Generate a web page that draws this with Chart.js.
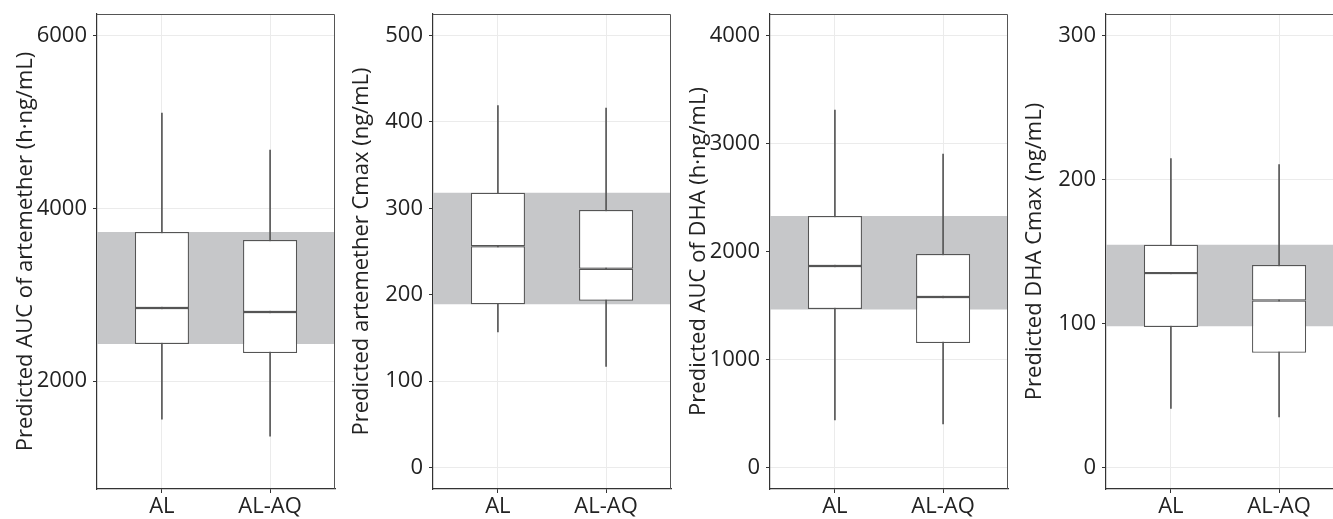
<!DOCTYPE html>
<html>
<head>
<meta charset="utf-8">
<script src="https://cdn.jsdelivr.net/npm/chart.js@4.4.1/dist/chart.umd.min.js"></script>
<style>
  html, body { margin: 0; padding: 0; background: #fff; }
  #wrap { position: relative; width: 1333px; height: 519px; overflow: hidden; }
  .panel { position: absolute; top: 0; width: 336px; height: 519px; }
</style>
</head>
<body>
<div id="wrap">
  <div class="panel" style="left:0px"><canvas id="c1"></canvas></div>
  <div class="panel" style="left:336px"><canvas id="c2"></canvas></div>
  <div class="panel" style="left:673px"><canvas id="c3"></canvas></div>
  <div class="panel" style="left:1009px"><canvas id="c4"></canvas></div>
</div>
<script>
// groups on the x axis
const categories = ['AL', 'AL-AQ'];

// panel 1: AUC of artemether
const artAucLow = [1560, 1363];
const artAucQ1 = [2429, 2325];
const artAucMedian = [2846, 2799];
const artAucQ3 = [3726, 3633];
const artAucHigh = [5104, 4675];
const artAucBand = [2429, 3726];
const artAucTicks = [2000, 4000, 6000];

// panel 2: artemether Cmax
const artCmaxLow = [157, 117];
const artCmaxQ1 = [189, 193];
const artCmaxMedian = [256, 230];
const artCmaxQ3 = [318, 298];
const artCmaxHigh = [419, 416];
const artCmaxBand = [189, 318];
const artCmaxTicks = [0, 100, 200, 300, 400, 500];

// panel 3: AUC of DHA
const dhaAucLow = [439, 402];
const dhaAucQ1 = [1467, 1152];
const dhaAucMedian = [1866, 1578];
const dhaAucQ3 = [2329, 1977];
const dhaAucHigh = [3311, 2903];
const dhaAucBand = [1462, 2329];
const dhaAucTicks = [0, 1000, 2000, 3000, 4000];

// panel 4: DHA Cmax
const dhaCmaxLow = [41, 35];
const dhaCmaxQ1 = [97.5, 79.7];
const dhaCmaxMedian = [135, 116];
const dhaCmaxQ3 = [154.7, 140.6];
const dhaCmaxHigh = [214.5, 210.3];
const dhaCmaxBand = [98, 154.7];
const dhaCmaxTicks = [0, 100, 200, 300];

const FONT = 'Open Sans';
const TEXT = '#222222';
const BOX_LINE = '#555555';
const BAND = '#c6c7c9';
const GRID = '#ebebeb';

// top and right sides of the panel frame
const framePlugin = {
    id: 'frame',
    afterDatasetsDraw(chart) {
        const a = chart.chartArea;
        const ctx = chart.ctx;
        ctx.save();
        ctx.strokeStyle = '#555';
        ctx.lineWidth = 1;
        ctx.beginPath();
        ctx.moveTo(a.left, a.top + 0.5);
        ctx.lineTo(a.right - 0.5, a.top + 0.5);
        ctx.lineTo(a.right - 0.5, a.bottom);
        ctx.stroke();
        ctx.restore();
    }
};

function makePanel(id, title, low, q1, med, q3, high, band, ticks, yMin, yMax) {
    const ctx = document.getElementById(id);
    return new Chart(ctx, {
        type: 'bar',
        data: {
            datasets: [
                {
                    type: 'line',
                    data: [{ x: 0.4, y: band[1] }, { x: 2.6, y: band[1] }],
                    fill: { value: band[0] },
                    backgroundColor: BAND,
                    borderWidth: 0,
                    pointRadius: 0,
                    order: 4
                },
                {
                    data: low.map((v, i) => ({ x: i + 1, y: [v, high[i]] })),
                    backgroundColor: BOX_LINE,
                    barThickness: 1,
                    order: 3
                },
                {
                    data: q1.map((v, i) => ({ x: i + 1, y: [v, med[i]] })),
                    backgroundColor: '#ffffff',
                    borderColor: BOX_LINE,
                    borderWidth: 1.2,
                    borderSkipped: false,
                    categoryPercentage: 1,
                    barPercentage: 0.5,
                    order: 2
                },
                {
                    data: med.map((v, i) => ({ x: i + 1, y: [v, q3[i]] })),
                    backgroundColor: '#ffffff',
                    borderColor: BOX_LINE,
                    borderWidth: 1.2,
                    borderSkipped: false,
                    categoryPercentage: 1,
                    barPercentage: 0.5,
                    order: 1
                }
            ]
        },
        options: {
            responsive: true,
            maintainAspectRatio: false,
            animation: false,
            grouped: false,
            layout: { padding: { top: 14, right: 1, left: 0, bottom: 0 } },
            plugins: { legend: { display: false }, tooltip: { enabled: false } },
            scales: {
                x: {
                    type: 'linear',
                    min: 0.4,
                    max: 2.6,
                    offset: false,
                    afterBuildTicks: (s) => { s.ticks = categories.map((c, i) => ({ value: i + 1 })); },
                    afterFit: (s) => { s.height = 30; s.paddingLeft = 0; s.paddingRight = 0; },
                    grid: { offset: false, color: GRID, tickColor: '#333', tickLength: 4 },
                    border: { color: '#333', width: 1.2 },
                    ticks: {
                        color: TEXT,
                        padding: 1,
                        font: { family: FONT, size: 22 },
                        callback: (v) => categories[Math.round(v) - 1] || ''
                    }
                },
                y: {
                    min: yMin,
                    max: yMax,
                    afterBuildTicks: (s) => { s.ticks = ticks.map(v => ({ value: v })); },
                    afterFit: (s) => { s.width = 97; s.paddingTop = 0; s.paddingBottom = 0; },
                    grid: { color: GRID, tickColor: '#333', tickLength: 4 },
                    border: { color: '#333', width: 1.2 },
                    ticks: {
                        color: TEXT,
                        padding: 6,
                        font: { family: FONT, size: 22 },
                        callback: (v) => String(v)
                    },
                    title: {
                        display: true,
                        text: title,
                        color: TEXT,
                        font: { family: FONT, size: 22 },
                        padding: { top: 13, bottom: 0 }
                    }
                }
            }
        },
        plugins: [framePlugin]
    });
}

makePanel('c1', 'Predicted AUC of artemether (h\u00b7ng/mL)',
    artAucLow, artAucQ1, artAucMedian, artAucQ3, artAucHigh, artAucBand, artAucTicks, 750, 6250);
makePanel('c2', 'Predicted artemether Cmax (ng/mL)',
    artCmaxLow, artCmaxQ1, artCmaxMedian, artCmaxQ3, artCmaxHigh, artCmaxBand, artCmaxTicks, -25, 525);
makePanel('c3', 'Predicted AUC of DHA (h\u00b7ng/mL)',
    dhaAucLow, dhaAucQ1, dhaAucMedian, dhaAucQ3, dhaAucHigh, dhaAucBand, dhaAucTicks, -200, 4200);
makePanel('c4', 'Predicted DHA Cmax (ng/mL)',
    dhaCmaxLow, dhaCmaxQ1, dhaCmaxMedian, dhaCmaxQ3, dhaCmaxHigh, dhaCmaxBand, dhaCmaxTicks, -15, 315);
</script>
</body>
</html>
